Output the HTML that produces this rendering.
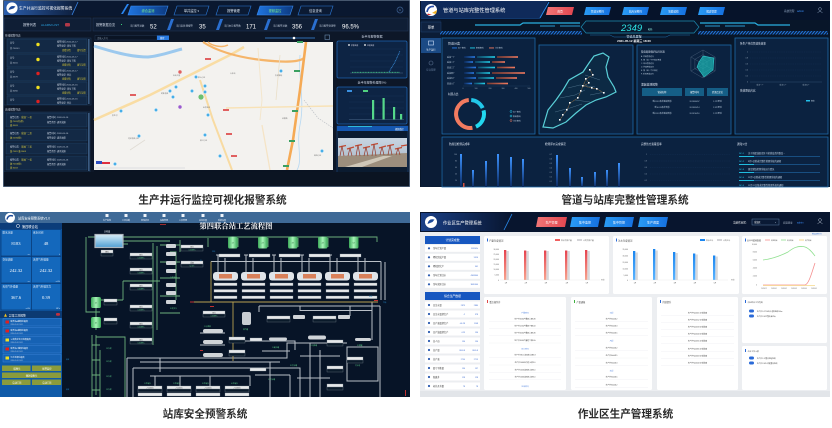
<!DOCTYPE html>
<html><head><meta charset="utf-8"><title>系统截图</title>
<style>
html,body{margin:0;padding:0;background:#fff;}
body{width:832px;height:428px;overflow:hidden;}
svg{display:block;}
</style></head><body>
<svg width="832" height="428" viewBox="0 0 832 428" xmlns="http://www.w3.org/2000/svg" font-family="'Liberation Sans','Noto Sans CJK SC',sans-serif">
<defs>
 <linearGradient id="g1hdr" x1="0" x2="1"><stop offset="0" stop-color="#2c5fae"/><stop offset="1" stop-color="#0c1c38"/></linearGradient>
 <linearGradient id="gTabOn" x1="0" x2="1"><stop offset="0" stop-color="#1f75e0"/><stop offset="1" stop-color="#0d3a80"/></linearGradient>
 <linearGradient id="gSky" x1="0" y1="0" x2="0" y2="1"><stop offset="0" stop-color="#c8d5e2"/><stop offset="1" stop-color="#a7b6c4"/></linearGradient>
 <linearGradient id="gBarBlue" x1="0" y1="0" x2="0" y2="1"><stop offset="0" stop-color="#3d93ff"/><stop offset="1" stop-color="#0b2a62"/></linearGradient>
 <linearGradient id="gOr" x1="0" x2="1"><stop offset="0" stop-color="#7a3a30"/><stop offset="1" stop-color="#f27b60"/></linearGradient>
 <linearGradient id="gCy" x1="0" x2="1"><stop offset="0" stop-color="#0f4a6a"/><stop offset="1" stop-color="#22d0ea"/></linearGradient>
 <linearGradient id="gBl" x1="0" x2="1"><stop offset="0" stop-color="#0d2a5a"/><stop offset="1" stop-color="#2a7ce8"/></linearGradient>
 <pattern id="hatch" width="3" height="4" patternUnits="userSpaceOnUse" patternTransform="skewX(-40)"><rect width="3" height="4" fill="#07162c"/><rect width="1.6" height="4" fill="#1f6fd0"/></pattern>
 <linearGradient id="gRed4" x1="0" y1="0" x2="0" y2="1"><stop offset="0" stop-color="#e6434f"/><stop offset="1" stop-color="#f7a48f"/></linearGradient>
 <linearGradient id="gBlu4" x1="0" y1="0" x2="0" y2="1"><stop offset="0" stop-color="#1a86f0"/><stop offset="1" stop-color="#5cb4ff"/></linearGradient>
 <linearGradient id="gTank" x1="0" x2="1"><stop offset="0" stop-color="#3aa858"/><stop offset=".5" stop-color="#a8f4b8"/><stop offset="1" stop-color="#3aa858"/></linearGradient>
 <linearGradient id="gWater" x1="0" y1="0" x2="0" y2="1"><stop offset="0" stop-color="#d8eef8"/><stop offset="1" stop-color="#4f9fd4"/></linearGradient>
 <linearGradient id="gRedTab" x1="0" x2="1"><stop offset="0" stop-color="#f27676"/><stop offset="1" stop-color="#e14650"/></linearGradient>
 <linearGradient id="gBluTab" x1="0" x2="1"><stop offset="0" stop-color="#2a9cf5"/><stop offset="1" stop-color="#1570e0"/></linearGradient>
 <linearGradient id="g4hdr" x1="0" x2="1"><stop offset="0" stop-color="#1a3f86"/><stop offset="1" stop-color="#08152e"/></linearGradient>
</defs>

<!-- ================= PANEL 1 (top-left) ================= -->
<g>
<rect x="3" y="0" width="407" height="187" fill="#0d1728"/>
<rect x="3.3" y="0.3" width="406.4" height="186.4" fill="none" stroke="#6d829c" stroke-width="0.6"/>
<rect x="4" y="1" width="405" height="15" fill="#0a1830"/>
<polygon points="4,1 78,1 72,15 4,15" fill="url(#g1hdr)"/>
<line x1="78" y1="2" x2="72" y2="15" stroke="#3a86e8" stroke-width="0.8"/>
<circle cx="12" cy="8" r="5.6" fill="#fff"/>
<path d="M8.5,10 Q10,4.5 15.5,6.5 L13.5,8.5 Z" fill="#1d4a9a"/>
<text x="19" y="9.5" font-size="3.8" fill="#fff">生产井运行监控可视化报警系统</text>
<polygon points="121,14 127,4 129,4 123,14" fill="#2a86f0"/>
<polygon points="131,6 168,6 165,15 128,15" fill="url(#gTabOn)" stroke="#3a8cf0" stroke-width="0.6"/>
<text x="148" y="12" font-size="3.2" fill="#7ef08a" text-anchor="middle">综合监测</text>
<polygon points="177,6 209,6 206,15 174,15" fill="#0b1a33" stroke="#2d7ad8" stroke-width="0.6"/>
<text x="191.5" y="12" font-size="3.2" fill="#d8e4f0" text-anchor="middle">单井监控 ▾</text>
<polygon points="219,6 251,6 248,15 216,15" fill="#0b1a33" stroke="#2d7ad8" stroke-width="0.6"/>
<text x="233.5" y="12" font-size="3.2" fill="#d8e4f0" text-anchor="middle">报警管理</text>
<polygon points="260,6 293,6 290,15 257,15" fill="url(#gTabOn)" stroke="#3a8cf0" stroke-width="0.6"/>
<text x="275" y="12" font-size="3.2" fill="#7ef08a" text-anchor="middle">视频监控</text>
<polygon points="301,6 333,6 330,15 298,15" fill="#0b1a33" stroke="#2d7ad8" stroke-width="0.6"/>
<text x="315.5" y="12" font-size="3.2" fill="#d8e4f0" text-anchor="middle">信息查询</text>
<circle cx="400" cy="10" r="3" fill="none" stroke="#3d5f8f" stroke-width="0.7"/>
<path d="M398.6,8.6 L401.4,11.4 M401.4,8.6 L398.6,11.4" stroke="#3d5f8f" stroke-width="0.5"/>

<rect x="4" y="18" width="87" height="13" fill="#0f1e35" stroke="#22395a" stroke-width="0.5"/>
<text x="23" y="26" font-size="3.3" fill="#d0d8e6">报警列表</text>
<text x="41" y="26" font-size="3.1" fill="#2aa6e6">ALARM LIST</text>
<rect x="65" y="23" width="5" height="3.5" rx="1" fill="#b03848"/>
<rect x="93" y="18" width="315" height="13" fill="#0f1e35" stroke="#22395a" stroke-width="0.5"/>
<text x="96" y="26" font-size="3.2" fill="#d0d8e6">报警数据总览</text>
<rect x="121" y="24" width="1" height="1" fill="#3ad07a"/>
<g font-size="2.4" fill="#c0ccdc">
<text x="130" y="26.5">当日报警总数</text>
<text x="176" y="26.5">当日未处理报警</text>
<text x="224" y="26.5">当日本月报警数</text>
<text x="273" y="26.5">当月报警总数</text>
<text x="319" y="26.5">当月报警处理率</text>
</g>
<g font-size="6" fill="#fff">
<text x="150" y="28.5">52</text><text x="199" y="28.5">35</text><text x="246" y="28.5">171</text><text x="292" y="28.5">356</text><text x="342" y="28.5">96.5%</text>
</g>
<g fill="#2a6fd0">
<polygon points="171,19 174,19 170,30 167,30"/><polygon points="220,19 223,19 219,30 216,30"/>
<polygon points="268,19 271,19 267,30 264,30"/><polygon points="315,19 318,19 314,30 311,30"/>
</g>

<!-- left column -->
<text x="5" y="36.5" font-size="2.6" fill="#c8d2e0">在线报警列表</text>
<rect x="4" y="38" width="87" height="67" fill="#0d1a2d" stroke="#1f3a5c" stroke-width="0.5"/>
<rect x="88" y="39" width="1.6" height="65" fill="#3a5a80"/>
<g font-size="2.2" fill="#c8d2e0">
<rect x="7" y="39" width="80" height="14" fill="#132945" stroke="#23446b" stroke-width="0.5"/>
<text x="10" y="43.5">井号:</text><text x="10" y="49">井:7003-1</text>
<circle cx="38" cy="44.5" r="1.7" fill="#f0e020"/>
<text x="57" y="42.5">报警时间:2020-05-17</text><text x="57" y="46.5">报警类型: 液位下限</text>
<text x="62" y="51" fill="#d8c838">查看详情</text><text x="77" y="51" fill="#d8c838">填写反馈</text>
<rect x="7" y="54" width="80" height="13" fill="#132945" stroke="#23446b" stroke-width="0.5"/>
<text x="10" y="58.5">井号:</text><text x="10" y="63.5">井:3041</text>
<circle cx="38" cy="59.5" r="1.7" fill="#f0e020"/>
<text x="57" y="57.5">报警时间:2020-05-17</text><text x="57" y="61.5">报警类型: 液位下限</text>
<text x="62" y="65.5" fill="#d8c838">查看详情</text><text x="77" y="65.5" fill="#d8c838">填写反馈</text>
<rect x="7" y="68" width="80" height="13" fill="#132945" stroke="#23446b" stroke-width="0.5"/>
<text x="10" y="72.5">井号:</text><text x="10" y="77.5">井:4378</text>
<circle cx="38" cy="73.5" r="1.7" fill="#e02020"/>
<text x="57" y="71.5">报警时间:2020-05-17</text><text x="57" y="75.5">报警类型: 停井</text>
<text x="62" y="79.5" fill="#d8c838">查看详情</text><text x="77" y="79.5" fill="#d8c838">填写反馈</text>
<rect x="7" y="82" width="80" height="13" fill="#132945" stroke="#23446b" stroke-width="0.5"/>
<text x="10" y="86.5">井号:</text><text x="10" y="91.5">井:3056</text>
<circle cx="38" cy="87.5" r="1.7" fill="#f0e020"/>
<text x="57" y="85.5">报警时间:2020-05-16</text><text x="57" y="89.5">报警类型: 液位下限</text>
<text x="62" y="93.5" fill="#d8c838">查看详情</text><text x="77" y="93.5" fill="#d8c838">填写反馈</text>
<rect x="7" y="96" width="80" height="8.5" fill="#132945" stroke="#23446b" stroke-width="0.5"/>
<text x="10" y="100.5">井号:</text>
<circle cx="38" cy="101.5" r="1.7" fill="#e02020"/>
<text x="57" y="99.5">报警时间:2020-05-16</text><text x="57" y="103.5">报警类型: 停井</text>
</g>
<text x="5" y="110.5" font-size="2.6" fill="#c8d2e0">离线报警列表</text>
<rect x="4" y="112" width="86" height="60" fill="#0d1a2d" stroke="#1f3a5c" stroke-width="0.5"/>
<rect x="88" y="113" width="1.6" height="58" fill="#3a5a80"/>
<g font-size="2.2" fill="#c8d2e0">
<rect x="6" y="113" width="81" height="14" fill="#132945" stroke="#23446b" stroke-width="0.5"/>
<text x="10" y="118">报警位置:</text><text x="21" y="118" fill="#e0d040">采油厂一区</text><text x="10" y="122" fill="#e0d040">油:7003井(停)</text><text x="10" y="126" fill="#e0d040">液:3003</text>
<text x="47" y="118">报警时间: 2020-05-16</text><text x="47" y="123">报警类型: 通讯故障</text>
<rect x="6" y="129" width="81" height="12" fill="#132945" stroke="#23446b" stroke-width="0.5"/>
<text x="10" y="134">报警位置:</text><text x="21" y="134" fill="#e0d040">采油厂二区</text><text x="10" y="138.5" fill="#e0d040">油:2005(停)</text>
<text x="47" y="134">报警时间: 2020-05-16</text><text x="47" y="138.5">报警类型: 通讯故障</text>
<rect x="6" y="143" width="81" height="11" fill="#132945" stroke="#23446b" stroke-width="0.5"/>
<text x="10" y="147.5">报警位置:</text><text x="21" y="147.5" fill="#e0d040">采油厂三区</text><text x="10" y="152" fill="#e0d040">油:7081 液:3003</text>
<text x="47" y="147.5">报警时间: 2020-05-16</text><text x="47" y="152">报警类型: 通讯故障</text>
<rect x="6" y="156" width="81" height="14" fill="#132945" stroke="#23446b" stroke-width="0.5"/>
<text x="10" y="160.5">报警位置:</text><text x="21" y="160.5" fill="#e0d040">采油厂一区</text><text x="10" y="164.5" fill="#e0d040">油:7003(停)</text><text x="10" y="168.5" fill="#e0d040">液:3003</text>
<text x="47" y="160.5">报警时间: 2020-05-16</text><text x="47" y="165">报警类型: 通讯故障</text>
</g>

<!-- map -->
<rect x="95" y="35.5" width="62" height="4.5" fill="#0a1424" stroke="#2a4060" stroke-width="0.4"/>
<text x="97" y="38.8" font-size="2.2" fill="#7a8a9c">请输入井号</text>
<rect x="157" y="35.5" width="12" height="4.5" fill="#2a7be0"/>
<text x="160" y="38.8" font-size="2.2" fill="#fff">搜索</text>
<line x1="265" y1="38" x2="315" y2="38" stroke="#3a8be0" stroke-width="0.8"/>
<circle cx="294" cy="38" r="1.3" fill="#fff"/>
<rect x="325" y="35" width="4.5" height="4.5" fill="none" stroke="#6a8ab0" stroke-width="0.6"/>
<rect x="94" y="42" width="239" height="128" fill="#f3f2ef"/>
<path d="M94,46 C110,51 130,57 148,57 C160,56 170,52 182,49" stroke="#9cc9ee" stroke-width="3" fill="none"/>
<path d="M300,55 C298,80 305,100 300,125 C296,145 303,160 297,170" stroke="#b6d8f2" stroke-width="0.8" fill="none"/>
<path d="M94,120 L150,95 L200,70 L232,54 L244,47" stroke="#f9dda4" stroke-width="2.6" fill="none"/>
<path d="M203,42 C215,50 235,57 262,60 C280,62 298,63 304,58" stroke="#f5b56a" stroke-width="2.2" fill="none"/>
<path d="M208,42 C212,46 222,48 228,45" stroke="#f5b56a" stroke-width="1.5" fill="none"/>
<path d="M306,42 L300,90 L293,140 L287,170" stroke="#f5aa55" stroke-width="2.6" fill="none"/>
<path d="M200,80 L213,120 L232,170" stroke="#f8dba2" stroke-width="2" fill="none"/>
<path d="M226,108 L333,106" stroke="#f8e2b6" stroke-width="1.4" fill="none"/>
<path d="M262,125 L270,170" stroke="#f5e4c6" stroke-width="1.3" fill="none"/>
<path d="M258,48 L262,100 L260,120" stroke="#f3e6cc" stroke-width="1" fill="none"/>
<path d="M280,55 L276,100" stroke="#eadfc8" stroke-width="0.8" fill="none"/>
<path d="M304,100 L318,118 L333,128" stroke="#b8bcc2" stroke-width="0.6" stroke-dasharray="1.5,1" fill="none"/>
<path d="M130,150 L145,140" stroke="#e0dcd4" stroke-width="0.8" fill="none"/>
<g fill="#e06060"><rect x="205" y="58" width="6" height="2"/><rect x="130" y="94" width="6" height="2"/><rect x="223" y="109" width="6" height="2"/><rect x="226" y="133" width="6" height="2"/><rect x="231" y="155" width="6" height="2"/></g>
<g fill="#3aa060"><rect x="297" y="41" width="6" height="2"/><rect x="294" y="70" width="6" height="2"/><rect x="292" y="110" width="6" height="2"/><rect x="289" y="140" width="6" height="2"/><rect x="283" y="165" width="6" height="2"/></g>
<g fill="#47aee8" stroke="#fff" stroke-width="0.4">
<circle cx="196" cy="77" r="1.7"/><circle cx="205" cy="92" r="1.7"/><circle cx="176" cy="87" r="1.7"/><circle cx="170" cy="91" r="1.7"/>
<circle cx="192" cy="91" r="1.7"/><circle cx="173" cy="97" r="1.7"/><circle cx="121" cy="111" r="1.7"/><circle cx="156" cy="110" r="1.7"/>
<circle cx="139" cy="136" r="1.7"/><circle cx="205" cy="135" r="1.7"/><circle cx="208" cy="115" r="1.7"/><circle cx="220" cy="156" r="1.7"/>
<circle cx="281" cy="71" r="1.7"/><circle cx="322" cy="151" r="1.7"/><circle cx="115" cy="164" r="1.7"/><circle cx="205" cy="86" r="1.7"/>
</g>
<circle cx="201" cy="97" r="2.6" fill="#6cc070"/>
<circle cx="180" cy="107" r="1.7" fill="#9a5ad0"/>
<circle cx="180" cy="72" r="1.7" fill="#e06060"/>
<g font-size="1.8" fill="#777">
<text x="173" y="76">石油大厦</text><text x="198" y="78">泰山小区</text><text x="161" y="94">明珠花园</text><text x="112" y="116">民生村</text>
<text x="203" y="108">金桥社区</text><text x="128" y="139">河滨花园小区</text><text x="200" y="141">新兴小区</text><text x="275" y="76">东湖雅苑</text>
<text x="314" y="156">田园小区</text><text x="282" y="119">红旗路</text><text x="230" y="74">火车站</text>
</g>
<rect x="96" y="161" width="6" height="3" fill="#3050c0"/><rect x="102" y="162" width="8" height="2" fill="#e03040"/>
<rect x="95" y="167" width="90" height="2" fill="#e8e8e8"/>
<rect x="94" y="170" width="239" height="2" fill="#0a1322"/>

<!-- right column -->
<text x="372" y="37.5" font-size="3" fill="#cfd8e8" text-anchor="middle">近半年报警数据</text>
<rect x="337" y="41" width="70" height="37" rx="1.5" fill="#0d2444" stroke="#1c62b0" stroke-width="0.8"/>
<circle cx="349" cy="45" r="0.9" fill="#fff"/><text x="351" y="45.8" font-size="1.8" fill="#ccd">报警数据</text>
<circle cx="365" cy="45" r="0.9" fill="#fff"/><text x="367" y="45.8" font-size="1.8" fill="#ccd">处理数据</text>
<g stroke="#1b3a60" stroke-width="0.3"><line x1="350" y1="49" x2="403" y2="49"/><line x1="350" y1="55" x2="403" y2="55"/><line x1="350" y1="61" x2="403" y2="61"/><line x1="350" y1="67" x2="403" y2="67"/></g>
<line x1="350" y1="73" x2="403" y2="73" stroke="#5a7a9a" stroke-width="0.4"/>
<line x1="352" y1="72.3" x2="400" y2="72.3" stroke="#40c080" stroke-width="0.9" stroke-dasharray="1,0.6"/>
<path d="M389,72 L395,62 L400,51" stroke="#3a90e0" stroke-width="0.8" stroke-dasharray="1,0.6" fill="none"/>
<text x="372" y="83.5" font-size="3" fill="#cfd8e8" text-anchor="middle">近半年报警处理率(%)</text>
<rect x="337" y="87" width="70" height="37" rx="1.5" fill="#0d2444" stroke="#1c62b0" stroke-width="0.8"/>
<rect x="347" y="90" width="5" height="2" fill="#3a90e0"/><rect x="363" y="90" width="5" height="2" fill="#50d080"/>
<g stroke="#1b3a60" stroke-width="0.3"><line x1="349" y1="96" x2="404" y2="96"/><line x1="349" y1="102" x2="404" y2="102"/><line x1="349" y1="108" x2="404" y2="108"/><line x1="349" y1="114" x2="404" y2="114"/></g>
<line x1="349" y1="119.5" x2="404" y2="119.5" stroke="#5a7a9a" stroke-width="0.4"/>
<g fill="#55d88a"><rect x="372" y="100" width="2.2" height="19.5"/><rect x="382.5" y="98" width="2.2" height="21.5"/><rect x="393" y="107" width="2.2" height="12.5"/><rect x="400" y="114" width="2.2" height="5.5"/></g>
<rect x="337" y="126" width="71" height="47" fill="#0b1b30" stroke="#1d4a80" stroke-width="0.6"/>
<rect x="337" y="126" width="71" height="5" fill="#1557b0"/>
<rect x="348" y="126" width="24" height="0.8" fill="#35d0e8"/>
<text x="395" y="130" font-size="2.2" fill="#fff">视频监控</text>
<rect x="338" y="138" width="69" height="29" fill="url(#gSky)"/>
<polygon points="338,156 407,153 407,167 338,167" fill="#9c8e7d"/>
<polygon points="345,167 383,156 392,156 362,167" fill="#cfc7b8"/>
<g stroke="#c24a32" stroke-width="1.3">
<line x1="339" y1="147" x2="346" y2="145.5"/><line x1="347" y1="149" x2="354" y2="147"/><line x1="355" y1="146" x2="362" y2="144.5"/>
<line x1="363" y1="148" x2="370" y2="146.5"/><line x1="371" y1="145" x2="378" y2="143.5"/><line x1="379" y1="148" x2="386" y2="146"/>
<line x1="387" y1="146" x2="394" y2="144.5"/><line x1="395" y1="149" x2="402" y2="147.5"/><line x1="401" y1="146" x2="407" y2="145"/>
</g>
<g stroke="#9a3b2c" stroke-width="0.7">
<path d="M342,146 L340,156 M342,146 L344,156 M350,148 L348,156 M350,148 L352,156 M358,145 L356,156 M358,145 L360,156 M366,147 L364,156 M366,147 L368,156 M374,144 L372,156 M374,144 L376,156 M382,147 L380,155 M382,147 L384,155 M390,145 L388,155 M390,145 L392,155 M398,148 L396,155 M398,148 L400,155"/>
</g>
<rect x="4" y="172" width="405" height="14" fill="#0b1422"/>
</g>

<!-- ================= PANEL 2 (top-right) ================= -->
<g>
<rect x="420" y="1" width="410" height="186" fill="#081629"/>
<rect x="420" y="1" width="410" height="19" fill="#06132a"/>
<polygon points="421,1 548,1 540,18 421,18" fill="#0f2a5a"/>
<line x1="549" y1="2" x2="540" y2="18" stroke="#2a8cf0" stroke-width="1"/>
<line x1="421" y1="18.5" x2="540" y2="18.5" stroke="#1d5fb0" stroke-width="0.6"/>
<circle cx="431" cy="10" r="6" fill="#fff"/>
<path d="M427,12 Q428,6 434,6.5" stroke="#2a4fa8" stroke-width="1.6" fill="none"/>
<path d="M432,13 L437,10 L436,14 Z" fill="#f0b020"/>
<path d="M428,13.5 L432,15 L427,15 Z" fill="#e03030"/>
<text x="443" y="12" font-size="5.2" fill="#fff">管道与站库完整性管理系统</text>
<polygon points="548,7 574,7 572,15 546,15" fill="url(#gRedTab)"/>
<text x="560" y="12.3" font-size="2.8" fill="#fff" text-anchor="middle">首页</text>
<g fill="url(#gBluTab)">
<polygon points="586,7 611,7 609,15 584,15"/><polygon points="624,7 649,7 647,15 622,15"/>
<polygon points="662,7 687,7 685,15 660,15"/><polygon points="700,7 725,7 723,15 698,15"/>
</g>
<g font-size="2.6" fill="#fff" text-anchor="middle">
<text x="597.5" y="12.3">管道完整性</text><text x="635.5" y="12.3">站库完整性</text><text x="673.5" y="12.3">智能巡检</text><text x="711.5" y="12.3">报表管理</text>
</g>
<text x="784" y="12" font-size="2.6" fill="#8fa4bf">系统管理</text><text x="797" y="12" font-size="2.6" fill="#3a90ff">admin</text>
<circle cx="820" cy="9" r="1.4" fill="none" stroke="#8fa4bf" stroke-width="0.5"/><path d="M817.5,13 Q820,10 822.5,13" stroke="#8fa4bf" stroke-width="0.5" fill="none"/>

<rect x="421" y="20" width="20" height="167" fill="#0b1c36"/>
<rect x="421" y="22" width="20" height="10" fill="#0f2240" stroke="#1f4070" stroke-width="0.5"/>
<text x="431" y="28.5" font-size="3.3" fill="#fff" text-anchor="middle">菜单</text>
<rect x="421" y="38" width="20" height="15" fill="#1b4a85"/>
<rect x="428.5" y="41" width="5" height="4" fill="none" stroke="#cfe0f8" stroke-width="0.6"/>
<text x="431" y="50.5" font-size="2.3" fill="#fff" text-anchor="middle">生产运行</text>
<circle cx="431" cy="63" r="2" fill="none" stroke="#5a7090" stroke-width="0.6"/>
<text x="431" y="70.5" font-size="2.3" fill="#6a80a0" text-anchor="middle">综合管理</text>

<!-- top decoration -->
<path d="M475,25 L520,25 L523,23 L580,23" stroke="#2ab0e0" stroke-width="1.2" fill="none"/>
<path d="M540,26 L555,26 M560,26 L580,26" stroke="#2a9ad0" stroke-width="1" fill="none"/>
<path d="M700,23 L755,23 L758,25 L790,25" stroke="#2ab0e0" stroke-width="1.2" fill="none"/>
<path d="M705,26 L720,26 M725,26 L745,26" stroke="#2a9ad0" stroke-width="1" fill="none"/>
<polygon points="586,21 694,21 699,27 694,33 586,33 581,27" fill="#08192f" stroke="#1d8ab0" stroke-width="0.7"/>
<rect x="440" y="31" width="142" height="3.5" fill="url(#hatch)"/>
<rect x="698" y="31" width="130" height="3.5" fill="url(#hatch)"/>
<text x="621" y="30.8" font-size="9.5" font-style="italic" fill="#2ee6e6">2349</text>
<text x="648" y="30.5" font-size="3.2" fill="#9fe">km</text>
<path d="M590,35 L610,35 L614,37 L666,37 L670,35 L690,35" stroke="#1d6fb0" stroke-width="0.5" fill="none"/>
<text x="634" y="37.5" font-size="3" fill="#dde8f4" text-anchor="middle">管道总里程</text>
<text x="634" y="42" font-size="3" fill="#fff" text-anchor="middle" font-weight="bold">2021-05-12  星期三  18:20</text>

<!-- card1 -->
<rect x="442" y="38" width="93" height="96" fill="#0b2240" stroke="#1e6aa8" stroke-width="0.8"/>
<text x="448" y="44.5" font-size="3" fill="#e0e8f4">管道分类</text>
<rect x="452" y="47.5" width="5" height="0.9" fill="#2a7ce8"/><text x="458" y="48.6" font-size="1.9" fill="#bcd">出厂管线</text>
<rect x="470" y="47.5" width="5" height="0.9" fill="#22d0ea"/><text x="476" y="48.6" font-size="1.9" fill="#bcd">集输管线</text>
<rect x="489" y="47.5" width="5" height="0.9" fill="#f27b60"/><text x="495" y="48.6" font-size="1.9" fill="#bcd">注水管线</text>
<g font-size="2" fill="#bcd">
<text x="447" y="57.8">采油一厂</text><text x="447" y="62.8">采油二厂</text><text x="447" y="68.3">采油三厂</text><text x="447" y="73.8">采油四厂</text><text x="447" y="78.8">采油五厂</text><text x="447" y="84.3">采油六厂</text>
</g>
<g>
<rect x="464" y="56.2" width="11" height="1.6" fill="url(#gBl)"/><rect x="477" y="56.2" width="18" height="1.6" fill="url(#gCy)"/><rect x="497" y="56.2" width="21" height="1.6" fill="url(#gOr)"/>
<rect x="464" y="61.2" width="9" height="1.6" fill="url(#gBl)"/><rect x="475" y="61.2" width="15" height="1.6" fill="url(#gCy)"/><rect x="492" y="61.2" width="13" height="1.6" fill="url(#gOr)"/>
<rect x="464" y="66.7" width="12" height="1.6" fill="url(#gBl)"/><rect x="478" y="66.7" width="17" height="1.6" fill="url(#gCy)"/><rect x="497" y="66.7" width="18" height="1.6" fill="url(#gOr)"/>
<rect x="464" y="72.2" width="10" height="1.6" fill="url(#gBl)"/><rect x="476" y="72.2" width="14" height="1.6" fill="url(#gCy)"/><rect x="492" y="72.2" width="33" height="1.6" fill="url(#gOr)"/>
<rect x="464" y="77.2" width="12" height="1.6" fill="url(#gBl)"/><rect x="478" y="77.2" width="16" height="1.6" fill="url(#gCy)"/><rect x="496" y="77.2" width="21" height="1.6" fill="url(#gOr)"/>
<rect x="464" y="82.7" width="8" height="1.6" fill="url(#gBl)"/><rect x="474" y="82.7" width="11" height="1.6" fill="url(#gCy)"/><rect x="487" y="82.7" width="21" height="1.6" fill="url(#gOr)"/>
</g>
<line x1="463" y1="86" x2="530" y2="86" stroke="#2a4a70" stroke-width="0.3"/>
<g font-size="1.8" fill="#9ab" text-anchor="middle"><text x="463" y="89">0</text><text x="476" y="89">100</text><text x="490" y="89">200</text><text x="503" y="89">300</text><text x="516" y="89">400</text><text x="529" y="89">500</text></g>
<text x="448" y="95" font-size="2.6" fill="#e0e8f4">材质占比</text>
<path d="M472.43,127.79 A14,14 0 1 1 468.78,100.05" stroke="#f27b60" stroke-width="4" fill="none"/>
<path d="M471.22,100.05 A14,14 0 0 1 482.69,108.08" stroke="#22c8ea" stroke-width="4" fill="none"/>
<path d="M483.52,110.38 A14,14 0 0 1 475.92,126.69" stroke="#22d8f0" stroke-width="4" fill="none"/>
<g font-size="1.9" fill="#bcd">
<circle cx="511" cy="111.5" r="1" fill="none" stroke="#22c8ea" stroke-width="0.5"/><text x="513" y="112.3">出厂管线</text>
<circle cx="511" cy="116" r="1" fill="none" stroke="#22d8f0" stroke-width="0.5"/><text x="513" y="116.8">集输管线</text>
<circle cx="511" cy="120.5" r="1" fill="none" stroke="#f27b60" stroke-width="0.5"/><text x="513" y="121.3">注水管线</text>
</g>

<!-- card2 map -->
<rect x="539" y="45" width="94" height="89" fill="#0b2240" stroke="#1e6aa8" stroke-width="0.8"/>
<polygon points="543,127 548,110 556,100 563,90 569,80 583,72 589,63 594,56 603,53 609,57 606,67 608,77 614,87 616,92 606,97 596,100 586,105 576,113 566,122 553,128" fill="#0c2a44" stroke="#5ad0d8" stroke-width="1.2"/>
<path d="M560,98 L575,95 L585,90 M568,88 L580,85 L595,87 M575,100 L590,102 M555,112 L570,108 L582,104 M585,75 L600,80 M590,95 L605,92" stroke="#5a7f98" stroke-width="0.4" fill="none"/>
<path d="M590,70 L593,75 L586,79 L589,83 L583,86 L592,88 L597,89 L604,93 M586,79 L578,98 L570,103 L567,110 L563,115 L560,120" stroke="#d08a40" stroke-width="0.5" stroke-dasharray="1,0.5" fill="none"/>
<g fill="#fff"><rect x="589" y="69" width="1.6" height="1.6"/><rect x="592" y="74" width="1.6" height="1.6"/><rect x="585" y="78" width="1.6" height="1.6"/><rect x="588" y="82" width="1.6" height="1.6"/><rect x="582" y="85" width="1.6" height="1.6"/><rect x="591" y="87" width="1.6" height="1.6"/><rect x="596" y="88" width="1.6" height="1.6"/><rect x="603" y="92" width="1.6" height="1.6"/><rect x="577" y="97" width="1.6" height="1.6"/><rect x="569" y="102" width="1.6" height="1.6"/><rect x="566" y="109" width="1.6" height="1.6"/><rect x="562" y="114" width="1.6" height="1.6"/><rect x="559" y="119" width="1.6" height="1.6"/><rect x="580" y="90" width="1.6" height="1.6"/></g>
<!-- card3 -->
<rect x="637" y="45" width="94" height="89" fill="#0b2240" stroke="#1e6aa8" stroke-width="0.8"/>
<text x="641" y="52.5" font-size="2.4" fill="#e0e8f4">管道周期保护运行状态</text>
<g font-size="1.8" fill="#bcd">
<text x="641" y="57">A. 外输管道运行</text><text x="641" y="60.5">B. 集（油）气不停运管道</text><text x="641" y="64">C. 综合管道运行</text><text x="641" y="67.5">D. 外输管道运行</text><text x="641" y="71">E. 集（油）气不停运</text><text x="641" y="74.5">F. 综合管道运行</text>
</g>
<g fill="none" stroke="#5a6f88" stroke-width="0.35">
<polygon points="703,50 715.1,57 715.1,71 703,78 690.9,71 690.9,57"/>
<polygon points="703,54.7 711.1,59.35 711.1,68.65 703,73.3 694.9,68.65 694.9,59.35"/>
<polygon points="703,59.3 707,61.7 707,66.3 703,68.7 699,66.3 699,61.7"/>
<path d="M703,50 L703,78 M690.9,57 L715.1,71 M715.1,57 L690.9,71"/>
</g>
<polygon points="703,56 714,58 713,70 704,77 697,67 699,62" fill="#1bb0b0" fill-opacity="0.75" stroke="#3ae0e0" stroke-width="0.5"/>
<text x="641" y="85.5" font-size="2.8" fill="#e0e8f4">泄漏监测报警</text>
<rect x="642" y="88" width="40" height="8" fill="#155e86"/><rect x="685" y="88" width="19" height="8" fill="#155e86"/><rect x="707" y="88" width="21" height="8" fill="#155e86"/>
<g font-size="2.2" fill="#fff" text-anchor="middle"><text x="662" y="92.8">管道名称</text><text x="694.5" y="92.8">报警时间</text><text x="717.5" y="92.8">泄漏点定位</text></g>
<g font-size="2" fill="#bcd" text-anchor="middle">
<text x="662" y="102">新813.1单井输油管道</text><text x="694.5" y="102">2019/08/07</text><text x="717.5" y="102">1.2公里处</text>
<text x="662" y="108">新10.35单井管道</text><text x="694.5" y="108">2019/09/14</text><text x="717.5" y="108">2.3公里处</text>
<text x="662" y="114">新813.1单井输油管道</text><text x="694.5" y="114">2019/10/16</text><text x="717.5" y="114">2.2公里处</text>
</g>
<!-- card4 -->
<rect x="735" y="38" width="93" height="96" fill="#0b2240" stroke="#1e6aa8" stroke-width="0.8"/>
<text x="740" y="44.5" font-size="2.6" fill="#e0e8f4">各生产单位管道失效率</text>
<g font-size="1.8" fill="#9ab" text-anchor="end"><text x="748" y="52.5">1</text><text x="748" y="58.5">0.8</text><text x="748" y="64.5">0.6</text><text x="748" y="70.5">0.4</text><text x="748" y="76.5">0.2</text><text x="748" y="82.5">0</text></g>
<g stroke="#1c3a5e" stroke-width="0.3" stroke-dasharray="1,0.8"><line x1="750" y1="52" x2="822" y2="52"/><line x1="750" y1="58" x2="822" y2="58"/><line x1="750" y1="64" x2="822" y2="64"/><line x1="750" y1="70" x2="822" y2="70"/><line x1="750" y1="76" x2="822" y2="76"/></g>
<line x1="750" y1="82" x2="822" y2="82" stroke="#3a5a80" stroke-width="0.4"/>
<g font-size="1.8" fill="#9ab" text-anchor="middle"><text x="760" y="85.5">采油一厂</text><text x="783" y="85.5">采油三厂</text><text x="806" y="85.5">采油五厂</text></g>
<text x="740" y="91.5" font-size="2.6" fill="#e0e8f4">失效原因占比</text>
<rect x="806" y="100" width="4" height="1.5" fill="#22c0ea"/><text x="811" y="101.5" font-size="1.8" fill="#bcd">腐蚀</text>
<!-- bottom card -->
<rect x="442" y="137" width="386" height="50" fill="#0b2240" stroke="#1e6aa8" stroke-width="0.8"/>
<g font-size="2.6" fill="#e0e8f4"><text x="449" y="145">防腐层检测完成率</text><text x="545" y="145">检测评价完成情况</text><text x="641" y="145">完整性方案覆盖率</text><text x="737" y="145">通知公告</text></g>
<g font-size="1.7" fill="#9ab" text-anchor="end"><text x="457" y="155">100</text><text x="457" y="161.5">80</text><text x="457" y="168">60</text><text x="457" y="174.5">40</text><text x="457" y="181">20</text>
<text x="552" y="155">0.7</text><text x="552" y="159.5">0.6</text><text x="552" y="164">0.5</text><text x="552" y="168.5">0.4</text><text x="552" y="173">0.3</text><text x="552" y="177.5">0.2</text><text x="552" y="182">0.1</text>
<text x="647" y="155">1</text><text x="647" y="161.5">0.8</text><text x="647" y="168">0.6</text><text x="647" y="174.5">0.4</text><text x="647" y="181">0.2</text></g>
<g fill="url(#gBarBlue)">
<rect x="460" y="154" width="2" height="33"/><rect x="472" y="170" width="2" height="17"/><rect x="485" y="161" width="2" height="26"/><rect x="497" y="154" width="2" height="33"/><rect x="510" y="157" width="2" height="30"/><rect x="522" y="159" width="2" height="28"/>
<rect x="556" y="155" width="2" height="32"/><rect x="569" y="168" width="2" height="19"/><rect x="581" y="177" width="2" height="10"/><rect x="594" y="172" width="2" height="15"/><rect x="606" y="170" width="2" height="17"/><rect x="618" y="163" width="2" height="24"/>
</g>
<rect x="463" y="183" width="1.5" height="4" fill="#d05040"/>
<g stroke="#1c3a5e" stroke-width="0.3" stroke-dasharray="1,0.8"><line x1="650" y1="154.5" x2="730" y2="154.5"/><line x1="650" y1="161" x2="730" y2="161"/><line x1="650" y1="167.5" x2="730" y2="167.5"/><line x1="650" y1="174" x2="730" y2="174"/><line x1="650" y1="180.5" x2="730" y2="180.5"/></g>
<g font-size="2.2">
<text x="739" y="154" fill="#22c8ea">NO.1</text><text x="748" y="154" fill="#cde">关于新疆油田库区与管线改造的整改…</text>
<text x="739" y="162" fill="#22c8ea">NO.2</text><text x="748" y="162" fill="#cde">9月5日管道完整性管理系统的通知</text>
<text x="739" y="170" fill="#22c8ea">NO.3</text><text x="748" y="170" fill="#cde">固定腐蚀检测系统运行情况</text>
<text x="739" y="178" fill="#22c8ea">NO.4</text><text x="748" y="178" fill="#cde">11月5日管道完整性管理系统的通知</text>
<text x="739" y="186" fill="#22c8ea">NO.5</text><text x="748" y="186" fill="#cde">11月22日管道完整性管理系统的通知</text>
</g>
<g stroke-width="0.9">
<line x1="739" y1="156.5" x2="820" y2="156.5" stroke="#184e80"/><line x1="739" y1="156.5" x2="754" y2="156.5" stroke="#22c8ea"/>
<line x1="739" y1="164.5" x2="820" y2="164.5" stroke="#184e80"/><line x1="739" y1="164.5" x2="754" y2="164.5" stroke="#22c8ea"/>
<line x1="739" y1="172.5" x2="820" y2="172.5" stroke="#184e80"/><line x1="739" y1="172.5" x2="754" y2="172.5" stroke="#22c8ea"/>
<line x1="739" y1="180.5" x2="820" y2="180.5" stroke="#184e80"/><line x1="739" y1="180.5" x2="754" y2="180.5" stroke="#22c8ea"/>
</g>
</g>

<!-- ================= PANEL 3 (bottom-left) ================= -->
<g>
<rect x="0" y="212" width="410" height="185" fill="#071427"/>
<rect x="0" y="212" width="410" height="11" fill="#3f6a97"/>
<circle cx="10" cy="217.8" r="5" fill="#fff"/>
<path d="M7,219.5 Q8,214.5 13,216" stroke="#1d4a9a" stroke-width="1.5" fill="none"/>
<text x="18" y="219.5" font-size="3.2" fill="#fff">站库安全预警系统V1.0</text>
<g fill="#eef3fa"><rect x="105.5" y="214" width="3" height="3"/><rect x="124.5" y="214" width="3" height="3"/><rect x="143.5" y="214" width="3" height="3"/><rect x="162.5" y="214" width="3" height="3"/><rect x="181.5" y="214" width="3" height="3"/><rect x="201.5" y="214" width="3" height="3"/><rect x="220.5" y="214" width="3" height="3"/></g>
<g font-size="2" fill="#e8eef8" text-anchor="middle"><text x="107" y="221">生产监控</text><text x="126" y="221">工况诊断</text><text x="145" y="221">腐蚀状况</text><text x="164" y="221">设备管理</text><text x="183" y="221">人员管理</text><text x="203" y="221">应急处置</text><text x="222" y="221">系统设置</text></g>
<!-- left panel -->
<rect x="0" y="223" width="62" height="174" fill="#0f5aa8"/>
<rect x="0" y="223" width="62" height="6" fill="#0c3d7a"/>
<circle cx="18" cy="226" r="1.6" fill="none" stroke="#fff" stroke-width="0.5"/>
<text x="22" y="227.8" font-size="3.2" fill="#fff">第四联合站</text>
<g fill="#1468bc" stroke="#0a3f7e" stroke-width="0.8">
<rect x="1" y="229.5" width="30.5" height="26.5"/><rect x="31.5" y="229.5" width="29.5" height="26.5"/>
<rect x="1" y="256.5" width="30.5" height="26.5"/><rect x="31.5" y="256.5" width="29.5" height="26.5"/>
<rect x="1" y="283.5" width="30.5" height="26.5"/><rect x="31.5" y="283.5" width="29.5" height="26.5"/>
</g>
<g font-size="2.6" fill="#e6eef8"><text x="2.5" y="233.5">脱水水量</text><text x="33" y="233.5">来水时间</text><text x="2.5" y="260.5">交接油量</text><text x="33" y="260.5">天然气外输量</text><text x="2.5" y="287.5">天然气外输量</text><text x="33" y="287.5">天然气外输压力</text></g>
<g font-size="4.6" fill="#fff" text-anchor="middle" font-family="'Liberation Serif',serif">
<text x="16" y="245">8183</text><text x="46" y="245">48</text><text x="16" y="272">242.32</text><text x="46" y="272">242.32</text><text x="16" y="299">367.6</text><text x="46" y="299">0.39</text>
</g>
<g font-size="1.9" fill="#d0dcec" text-anchor="end"><text x="30" y="255">m³</text><text x="60" y="255">h</text><text x="30" y="282">m³</text><text x="60" y="282">m3/h</text><text x="30" y="309">m3/h</text><text x="60" y="309">MPa</text></g>
<rect x="0" y="311" width="62" height="7" fill="#0c3a72"/>
<polygon points="4,316.8 5.5,313.5 7,316.8" fill="#f0c020"/>
<text x="9" y="316.5" font-size="2.8" fill="#fff">异常工况报警</text>
<rect x="56" y="313" width="4" height="2.8" rx="1" fill="#c03040"/>
<g fill="#1662b4" stroke="#3a82d8" stroke-width="0.5">
<rect x="3" y="318.5" width="58" height="7.5"/><rect x="3" y="327.5" width="58" height="7.5"/><rect x="3" y="336.5" width="58" height="7.5"/><rect x="3" y="345.5" width="58" height="7.5"/><rect x="3" y="354.5" width="58" height="7.5"/>
</g>
<rect x="5.5" y="320.5" width="3.5" height="3" fill="#e02020"/><rect x="5.5" y="329.5" width="3.5" height="3" fill="#e02020"/><rect x="5.5" y="338.5" width="3.5" height="3" fill="#f0e020"/><rect x="5.5" y="347.5" width="3.5" height="3" fill="#e02020"/><rect x="5.5" y="356.5" width="3.5" height="3" fill="#f0e020"/>
<g font-size="2" fill="#fff"><text x="10.5" y="322">联合站A罐液位超高</text><text x="10.5" y="331">联合站B罐液位超高</text><text x="10.5" y="340">1#加热炉出口温度超高</text><text x="10.5" y="349">联合站C罐液位超高</text><text x="10.5" y="358">污水池液位超高</text></g>
<g font-size="1.6" fill="#b8cce4"><text x="10.5" y="324.8">2020-05-16 10:21</text><text x="10.5" y="333.8">2020-05-16 10:21</text><text x="10.5" y="342.8">2020-05-16 10:21</text><text x="10.5" y="351.8">2020-05-16 10:21</text><text x="10.5" y="360.8">2020-05-16 10:21</text></g>
<g fill="#8a9b3c">
<rect x="2" y="365.5" width="28.5" height="5.5"/><rect x="32" y="365.5" width="29" height="5.5"/>
<rect x="2" y="372.5" width="59" height="5.5"/>
<rect x="2" y="379.5" width="28.5" height="5.5"/><rect x="32" y="379.5" width="29" height="5.5"/>
</g>
<g font-size="2.3" fill="#fff" text-anchor="middle"><text x="17" y="369.3">摄像头</text><text x="47" y="369.3">报警监控</text><text x="31.5" y="376.3">播放摄像头</text><text x="17" y="383.3">启动门禁</text><text x="47" y="383.3">启动门禁</text></g>
<!-- flow diagram -->
<text x="236" y="228.5" font-size="7.3" fill="#fff" text-anchor="middle" font-weight="bold" font-family="'Liberation Serif','Noto Serif CJK SC',serif">第四联合站工艺流程图</text>
<g fill="none" stroke="#6cb07c" stroke-width="0.9">
<path d="M88,237 H377 V242"/>
<path d="M86,237 V312 H100"/>
<path d="M96,308 V330 M96,312 V316"/>
<path d="M123,241 H170 M123,244 H128"/>
<path d="M153,243 V345 M157,246 V330"/>
<path d="M160,245 H180 M160,262 H180 M160,278 H180 M160,296 H180 M160,313 H180"/>
<path d="M123,281 H160 M123,281 V300 M100,300 H123"/>
<path d="M92,335 V397 M96,335 V395 M100,350 V397 M92,345 H100 M92,360 H100 M92,375 H100 M92,390 H100"/>
<path d="M96,337 H125 V397"/>
<path d="M208,238 V247 M238,238 V247 M268,238 V247 M298,238 V247 M328,238 V247"/>
<path d="M170,252 H176 V300 M180,240 V252"/>
</g>
<g fill="none" stroke="#b8bfc7" stroke-width="1">
<path d="M211,261.5 H381"/>
<path d="M218,255 V272 M225,258 V272 M246,255 V272 M253,258 V272 M274,255 V272 M281,258 V272 M302,255 V272 M309,258 V272 M330,255 V272 M337,258 V272 M358,255 V272 M365,258 V272"/>
<path d="M216,255 H220 M244,255 H248 M272,255 H276 M300,255 H304 M328,255 H332 M356,255 H360"/>
<path d="M259,306 H380 M300,310.5 H372 M259,306 V312 M300,306 V311 M350,306 V316 M372,302 V311"/>
<path d="M127,358 H287 V343 H347 M127,358 V397 M160,358 V372"/>
<path d="M133,368 H300 V397 M133,368 V397"/>
<path d="M347,347 H378 V381 H347 Z"/>
<path d="M300,356 H340 M297,378 H330 M310,343 V397 M320,350 V397"/>
<path d="M200,333 H225 M200,345 H225 M200,358 H225"/>
<path d="M245,341 H295 V350 M262,351 H290"/>
<path d="M150,376 H250 V386 M180,376 V386 M210,376 V386 M155,376 V386"/>
<path d="M380,306 V397 M372,311 V340 M385,262 V300 M381,261.5 V300"/>
<path d="M140,362 H280 M270,362 V397 M255,375 H290 M290,375 V397"/>
</g>
<g fill="none" stroke="#b9a050" stroke-width="0.9">
<path d="M190,302 H378 M211,261.5 V302 M233,302 V361"/>
</g>
<g fill="#c03030"><rect x="190" y="301.5" width="4" height="1"/><rect x="160" y="224" width="6" height="0.8"/><rect x="210" y="306" width="4" height="1"/><rect x="374" y="300" width="4" height="1"/><rect x="405" y="390" width="1" height="6"/><rect x="200" y="350" width="3" height="1"/></g>
<rect x="95" y="234.5" width="28" height="13" fill="url(#gWater)" stroke="#b0b8c0" stroke-width="1.2"/>
<text x="104" y="232.5" font-size="2" fill="#e8f0f8">沉降罐</text>
<g fill="url(#gTank)">
<rect x="228" y="236.5" width="9.5" height="12" rx="1.8"/><rect x="258" y="236.5" width="9.5" height="12" rx="1.8"/><rect x="288" y="236.5" width="9.5" height="12" rx="1.8"/><rect x="318" y="236.5" width="9.5" height="12" rx="1.8"/><rect x="349" y="236.5" width="9.5" height="12" rx="1.8"/>
<rect x="91" y="297" width="10" height="11" rx="1.8"/><rect x="91" y="317" width="10" height="11" rx="1.8"/>
</g>
<g font-size="2" fill="#1a4a2a" text-anchor="middle"><text x="232.7" y="243.5">1#</text><text x="262.7" y="243.5">2#</text><text x="292.7" y="243.5">3#</text><text x="322.7" y="243.5">4#</text><text x="353.7" y="243.5">5#</text><text x="96" y="303.5">1#</text><text x="96" y="323.5">2#</text></g>
<g>
<rect x="213" y="272" width="25" height="8.5" rx="3" fill="#dfe3e8"/><rect x="219" y="274" width="13" height="4.5" fill="#d9805a"/>
<rect x="241" y="272" width="25" height="8.5" rx="3" fill="#dfe3e8"/><rect x="247" y="274" width="13" height="4.5" fill="#d9805a"/>
<rect x="269" y="272" width="25" height="8.5" rx="3" fill="#dfe3e8"/><rect x="275" y="274" width="13" height="4.5" fill="#d9805a"/>
<rect x="297" y="272" width="25" height="8.5" rx="3" fill="#dfe3e8"/><rect x="303" y="274" width="13" height="4.5" fill="#d9805a"/>
<rect x="325" y="272" width="25" height="8.5" rx="3" fill="#dfe3e8"/><rect x="331" y="274" width="13" height="4.5" fill="#d9805a"/>
<rect x="353" y="272" width="25" height="8.5" rx="3" fill="#dfe3e8"/><rect x="359" y="274" width="13" height="4.5" fill="#d9805a"/>
</g>
<!-- label boxes -->
<g stroke="#8a949e" stroke-width="0.3">
<g fill="#e6e8ea">
<rect x="130" y="253" width="22" height="3"/><rect x="130" y="268" width="22" height="3"/><rect x="130" y="284" width="22" height="3"/><rect x="130" y="305" width="22" height="3"/><rect x="130" y="322" width="22" height="3"/><rect x="130" y="338" width="22" height="3"/>
<rect x="181" y="245" width="22" height="3"/><rect x="181" y="261" width="22" height="3"/><rect x="101" y="250" width="12" height="3"/>
<rect x="104" y="299" width="13" height="3"/><rect x="104" y="318" width="13" height="3"/>
<rect x="219" y="254" width="21" height="3"/><rect x="249" y="254" width="21" height="3"/><rect x="279" y="254" width="21" height="3"/><rect x="309" y="254" width="21" height="3"/><rect x="340" y="254" width="21" height="3"/>
<rect x="214" y="283" width="23" height="2.6"/><rect x="214" y="289.5" width="23" height="2.6"/><rect x="214" y="296" width="23" height="2.6"/>
<rect x="242" y="283" width="23" height="2.6"/><rect x="242" y="289.5" width="23" height="2.6"/><rect x="242" y="296" width="23" height="2.6"/>
<rect x="270" y="283" width="23" height="2.6"/><rect x="270" y="289.5" width="23" height="2.6"/><rect x="270" y="296" width="23" height="2.6"/>
<rect x="298" y="283" width="23" height="2.6"/><rect x="298" y="289.5" width="23" height="2.6"/><rect x="298" y="296" width="23" height="2.6"/>
<rect x="326" y="283" width="23" height="2.6"/><rect x="326" y="289.5" width="23" height="2.6"/><rect x="326" y="296" width="23" height="2.6"/>
<rect x="354" y="283" width="23" height="2.6"/><rect x="354" y="289.5" width="23" height="2.6"/><rect x="354" y="296" width="23" height="2.6"/>
<rect x="203" y="311" width="22" height="3"/><rect x="267" y="316" width="23" height="3"/><rect x="313" y="316" width="23" height="3"/>
<rect x="229" y="337" width="16" height="3"/><rect x="229" y="350" width="16" height="3"/><rect x="250" y="338" width="12" height="3"/>
<rect x="327" y="340" width="16" height="3"/><rect x="347" y="357" width="16" height="3"/><rect x="327" y="366" width="16" height="3"/><rect x="327" y="384" width="16" height="3"/><rect x="250" y="368" width="16" height="3"/>
<rect x="138" y="386" width="24" height="3"/><rect x="167" y="386" width="24" height="3"/><rect x="196" y="386" width="24" height="3"/><rect x="225" y="386" width="24" height="3"/>
</g>
<g fill="#0a1a2a">
<rect x="130" y="256" width="22" height="3"/><rect x="130" y="271" width="22" height="3"/><rect x="130" y="287" width="22" height="3"/><rect x="130" y="308" width="22" height="3"/><rect x="130" y="325" width="22" height="3"/><rect x="130" y="341" width="22" height="3"/>
<rect x="181" y="248" width="22" height="3"/><rect x="181" y="264" width="22" height="3"/><rect x="101" y="253" width="12" height="3"/>
<rect x="104" y="302" width="13" height="3"/><rect x="104" y="321" width="13" height="3"/>
<rect x="203" y="314" width="22" height="3"/><rect x="267" y="319" width="23" height="3"/><rect x="313" y="319" width="23" height="3"/>
<rect x="229" y="340" width="16" height="3"/><rect x="229" y="353" width="16" height="3"/>
<rect x="327" y="343" width="16" height="3"/><rect x="347" y="360" width="16" height="3"/><rect x="327" y="369" width="16" height="3"/><rect x="327" y="387" width="16" height="3"/>
<rect x="138" y="389" width="24" height="3"/><rect x="167" y="389" width="24" height="3"/><rect x="196" y="389" width="24" height="3"/><rect x="225" y="389" width="24" height="3"/>
<rect x="138" y="393" width="24" height="3" fill="#e6e8ea"/><rect x="167" y="393" width="24" height="3" fill="#e6e8ea"/><rect x="196" y="393" width="24" height="3" fill="#e6e8ea"/><rect x="225" y="393" width="24" height="3" fill="#e6e8ea"/>
</g>
</g>
<g font-size="1.8" fill="#333" text-anchor="middle">
<text x="141" y="255.5">压力</text><text x="141" y="270.5">压力</text><text x="141" y="286.5">压力</text><text x="141" y="307.5">压力</text><text x="141" y="324.5">压力</text><text x="141" y="340.5">压力</text>
<text x="192" y="247.5">压力</text><text x="192" y="263.5">温度</text><text x="107" y="252.5">液位</text><text x="214" y="313.5">压力</text>
<text x="150" y="388.5">入口压力</text><text x="179" y="388.5">入口压力</text><text x="208" y="388.5">入口压力</text><text x="237" y="388.5">入口压力</text>
</g>
<g font-size="1.7" fill="#5fd08a" text-anchor="middle">
<text x="141" y="258.5">0.33MPa</text><text x="141" y="273.5">0.36MPa</text><text x="141" y="289.5">0.32MPa</text><text x="141" y="310.5">0.33MPa</text><text x="141" y="327.5">0.35MPa</text><text x="141" y="343.5">0.32MPa</text>
<text x="192" y="250.5">0.33MPa</text><text x="192" y="266.5">52.6℃</text><text x="214" y="316.5">0.33MPa</text>
</g>
<g fill="#d0d4d8">
<rect x="166" y="244" width="10" height="4" rx="1"/><rect x="166" y="252" width="10" height="4" rx="1"/><rect x="166" y="261" width="10" height="4" rx="1"/><rect x="166" y="269" width="10" height="4" rx="1"/>
<rect x="166" y="283" width="10" height="4" rx="1"/><rect x="166" y="291" width="10" height="4" rx="1"/><rect x="166" y="300" width="10" height="4" rx="1"/>
<rect x="293" y="315" width="12" height="4" rx="1"/><rect x="338" y="315" width="12" height="4" rx="1"/>
<rect x="203" y="329" width="20" height="4" rx="2"/><rect x="203" y="340" width="20" height="4" rx="2"/><rect x="203" y="353" width="20" height="4" rx="2"/>
<rect x="269" y="337.5" width="18" height="3" rx="1.5"/><rect x="308" y="335.5" width="18" height="4" rx="2"/><rect x="355" y="338" width="16" height="3" rx="1.5"/>
</g>
<rect x="242" y="312" width="9" height="13" rx="2" fill="#c8cdd2"/>
<g font-size="1.7" fill="#5fd08a">
<text x="170" y="278">2#提升泵</text><text x="170" y="309">3#提升泵</text><text x="106" y="349">CF泵房</text><text x="106" y="362">CF泵房</text><text x="106" y="377">CF泵房</text><text x="106" y="390">CF泵房</text>
<text x="272" y="348">1#缓冲罐</text><text x="310" y="346">2#沉降罐</text><text x="357" y="346">3#储罐</text><text x="290" y="366">3#污水罐</text><text x="268" y="380">5#污水罐</text>
<text x="144" y="384">1#外输泵</text><text x="173" y="384">2#外输泵</text><text x="202" y="384">3#外输泵</text><text x="231" y="384">4#外输泵</text>
<text x="204" y="327">1#分离器</text><text x="243" y="330">储气罐</text><text x="355" y="366">污水池</text>
</g>
<g font-size="1.6" fill="#1f7ab8"><text x="200" y="261">油</text><text x="212" y="252">进站</text><text x="369" y="297">出站</text><text x="383" y="303">外输</text><text x="66" y="360">来液</text><text x="66" y="390">来液</text></g>
</g>

<!-- ================= PANEL 4 (bottom-right) ================= -->
<g>
<rect x="420" y="212" width="410" height="185" fill="#eceef1"/>
<rect x="420" y="212" width="410" height="20" fill="#08152e"/>
<polygon points="421,213 512,213 504,231 421,231" fill="url(#g4hdr)"/>
<line x1="512" y1="214" x2="504" y2="230" stroke="#2a8cf0" stroke-width="0.8"/>
<circle cx="431" cy="222" r="6" fill="#fff"/>
<path d="M427.5,224 Q428.5,218 434.5,219.5 L432.5,222 Z" fill="#1d4a9a"/>
<text x="443" y="224.3" font-size="4.3" fill="#fff">作业区生产管理系统</text>
<polygon points="538,217 567,217 565,227 536,227" fill="url(#gRedTab)"/>
<g fill="url(#gBluTab)"><polygon points="572,217 600,217 598,227 570,227"/><polygon points="606,217 634,217 632,227 604,227"/><polygon points="640,217 668,217 666,227 638,227"/></g>
<g font-size="3" fill="#fff" text-anchor="middle"><text x="551.5" y="223.3">生产管理</text><text x="585" y="223.3">集中监控</text><text x="619" y="223.3">集中管控</text><text x="653" y="223.3">生产调度</text></g>
<text x="733" y="223.5" font-size="2.6" fill="#fff">当前作业区:</text>
<rect x="752" y="219" width="27" height="6" fill="#0a1a35" stroke="#5a7aa0" stroke-width="0.5"/>
<text x="754" y="223" font-size="2.2" fill="#fff">采油区</text><text x="775" y="223" font-size="2" fill="#9ab">▾</text>
<text x="783" y="223.5" font-size="2.4" fill="#b0bccc">欢迎登录</text><text x="797" y="223.5" font-size="2.4" fill="#3a90ff">admin</text>
<circle cx="820" cy="220" r="1.4" fill="none" stroke="#b0bccc" stroke-width="0.5"/><path d="M817.5,224 Q820,221 822.5,224" stroke="#b0bccc" stroke-width="0.5" fill="none"/>
<text x="812" y="234.5" font-size="1.6" fill="#4a80d8">数据更新时间</text>
<!-- left column -->
<rect x="425" y="236" width="55" height="8" fill="#1757c0"/>
<text x="452.5" y="241.2" font-size="2.8" fill="#fff" text-anchor="middle">计划完成数</text>
<g fill="#fff"><rect x="425" y="244.8" width="55" height="7"/><rect x="425" y="253.8" width="55" height="7"/><rect x="425" y="262.8" width="55" height="7"/><rect x="425" y="271.8" width="55" height="7"/><rect x="425" y="280.8" width="55" height="7"/></g>
<rect x="425" y="292" width="55" height="8" fill="#1757c0"/>
<text x="452.5" y="297.2" font-size="2.8" fill="#fff" text-anchor="middle">综合生产数据</text>
<g fill="#fff"><rect x="425" y="301.5" width="55" height="7"/><rect x="425" y="310.5" width="55" height="7"/><rect x="425" y="319.5" width="55" height="7"/><rect x="425" y="328.5" width="55" height="7"/><rect x="425" y="337.5" width="55" height="7"/><rect x="425" y="346.5" width="55" height="7"/><rect x="425" y="355.5" width="55" height="7"/><rect x="425" y="364.5" width="55" height="7"/><rect x="425" y="373.5" width="55" height="7"/><rect x="425" y="382.5" width="55" height="7"/></g>
<g fill="#2a5ab0"><circle cx="429" cy="248.3" r="1.1"/><circle cx="429" cy="257.3" r="1.1"/><circle cx="429" cy="266.3" r="1.1"/><circle cx="429" cy="275.3" r="1.1"/><circle cx="429" cy="284.3" r="1.1"/>
<circle cx="429" cy="305" r="1.1"/><circle cx="429" cy="314" r="1.1"/><circle cx="429" cy="323" r="1.1"/><circle cx="429" cy="332" r="1.1"/><circle cx="429" cy="341" r="1.1"/><circle cx="429" cy="350" r="1.1"/><circle cx="429" cy="359" r="1.1"/><circle cx="429" cy="368" r="1.1"/><circle cx="429" cy="377" r="1.1"/><circle cx="429" cy="386" r="1.1"/></g>
<g font-size="2.2" fill="#333">
<text x="433" y="249.2">全年计划产量</text><text x="433" y="258.2">累积完成产量</text><text x="433" y="267.2">累积超欠产</text><text x="433" y="276.2">全年计划注水</text><text x="433" y="285.2">全年实际注水</text>
<text x="433" y="305.9">日注水量</text><text x="433" y="314.9">日注水量超欠产</text><text x="433" y="323.9">日产液量超欠产</text><text x="433" y="332.9">日产油量超欠产</text><text x="433" y="341.9">总人员</text><text x="433" y="350.9">总产量</text><text x="433" y="359.9">总产液</text><text x="433" y="368.9">盈亏平衡量</text><text x="433" y="377.9">新建井</text><text x="433" y="386.9">老井开井数</text>
</g>
<g font-size="1.9" fill="#3a6ad0" text-anchor="end">
<text x="478" y="249.2">382065t</text><text x="478" y="258.2">9916</text><text x="478" y="267.2">961</text><text x="478" y="276.2">4308900</text><text x="478" y="285.2">3865900</text>
<text x="478" y="305.9">2880</text><text x="478" y="314.9">378</text><text x="478" y="323.9">1148</text><text x="478" y="332.9">136</text><text x="478" y="341.9">136</text><text x="478" y="350.9">3605.8</text><text x="478" y="359.9">2713</text><text x="478" y="368.9">137</text><text x="478" y="377.9">128</text><text x="478" y="386.9">78</text>
<text x="465" y="305.9">2879</text><text x="465" y="314.9">-2</text><text x="465" y="323.9">-46.28</text><text x="465" y="332.9">4.23</text><text x="465" y="341.9">136</text><text x="465" y="350.9">3603.8</text><text x="465" y="359.9">2750</text><text x="465" y="368.9">136</text><text x="465" y="377.9">128</text><text x="465" y="386.9">78</text>
</g>
<!-- chart cards -->
<g fill="#fff">
<rect x="484" y="236" width="125" height="58" rx="1.5"/><rect x="613" y="236" width="126" height="58" rx="1.5"/><rect x="742" y="236" width="85" height="58" rx="1.5"/>
<rect x="484" y="297" width="82" height="93" rx="1.5"/><rect x="571" y="297" width="81" height="93" rx="1.5"/><rect x="657" y="297" width="81" height="93" rx="1.5"/>
<rect x="742" y="297" width="85" height="46" rx="1.5"/><rect x="742" y="346" width="85" height="44" rx="1.5"/>
</g>
<rect x="487" y="238.5" width="1" height="3" fill="#2a6ad8"/><text x="489" y="241.3" font-size="2.4" fill="#444">产量完成情况</text>
<rect x="555" y="239" width="5" height="2" fill="#f06060"/><text x="561" y="240.8" font-size="1.8" fill="#666">实际完成产量</text>
<rect x="577" y="239" width="5" height="2" fill="#d4d4d8"/><text x="583" y="240.8" font-size="1.8" fill="#666">计划完成产量</text>
<g font-size="1.8" fill="#666" text-anchor="end"><text x="499" y="250">30,000</text><text x="499" y="255">25,000</text><text x="499" y="260">20,000</text><text x="499" y="265">15,000</text><text x="499" y="270">10,000</text><text x="499" y="275.5">5,000</text><text x="499" y="281">0</text></g>
<g fill="url(#gRed4)"><rect x="504" y="250" width="2.3" height="30"/><rect x="524" y="250.5" width="2.3" height="29.5"/><rect x="544" y="250.5" width="2.3" height="29.5"/><rect x="565" y="250.5" width="2.3" height="29.5"/><rect x="585" y="250" width="2.3" height="30"/></g>
<g fill="#d6d7db"><rect x="506.5" y="251" width="2.3" height="29"/><rect x="526.5" y="251" width="2.3" height="29"/><rect x="546.5" y="251" width="2.3" height="29"/><rect x="567.5" y="251" width="2.3" height="29"/><rect x="587.5" y="251" width="2.3" height="29"/></g>
<line x1="500" y1="280" x2="600" y2="280" stroke="#ddd" stroke-width="0.3"/>
<g font-size="1.7" fill="#666" text-anchor="middle"><text x="506" y="283.5">1月</text><text x="526" y="283.5">2月</text><text x="546" y="283.5">3月</text><text x="567" y="283.5">4月</text><text x="587" y="283.5">5月</text></g>
<text x="601" y="280.5" font-size="1.7" fill="#666">月份</text>
<rect x="616" y="238.5" width="1" height="3" fill="#2a6ad8"/><text x="618" y="241.3" font-size="2.4" fill="#444">注水完成情况</text>
<rect x="700" y="239" width="5" height="2" fill="#1a86f0"/><text x="706" y="240.8" font-size="1.8" fill="#666">实际注水</text>
<rect x="717" y="239" width="5" height="2" fill="#d4d4d8"/><text x="723" y="240.8" font-size="1.8" fill="#666">计划注水</text>
<g font-size="1.8" fill="#666" text-anchor="end"><text x="628" y="250">35,000</text><text x="628" y="256.5">30,000</text><text x="628" y="263">20,000</text><text x="628" y="269.5">10,000</text><text x="628" y="276">5,000</text><text x="628" y="281">0</text></g>
<g fill="url(#gBlu4)"><rect x="633" y="251" width="2.3" height="29"/><rect x="653" y="249" width="2.3" height="31"/><rect x="673" y="252" width="2.3" height="28"/><rect x="693" y="253.5" width="2.3" height="26.5"/><rect x="713" y="255.5" width="2.3" height="24.5"/></g>
<g fill="#d6d7db"><rect x="635.5" y="252.5" width="2.3" height="27.5"/><rect x="655.5" y="250.5" width="2.3" height="29.5"/><rect x="675.5" y="253" width="2.3" height="27"/><rect x="695.5" y="254.5" width="2.3" height="25.5"/><rect x="715.5" y="256.5" width="2.3" height="23.5"/></g>
<line x1="629" y1="280" x2="728" y2="280" stroke="#ddd" stroke-width="0.3"/>
<g font-size="1.7" fill="#666" text-anchor="middle"><text x="635" y="283.5">1月</text><text x="655" y="283.5">2月</text><text x="675" y="283.5">3月</text><text x="695" y="283.5">4月</text><text x="715" y="283.5">5月</text></g>
<text x="731" y="280.5" font-size="1.7" fill="#666">月份</text>
<rect x="745" y="238.5" width="1" height="3" fill="#2a6ad8"/><text x="747" y="241.3" font-size="2" fill="#444">近半年能耗数据</text>
<line x1="765" y1="240" x2="770" y2="240" stroke="#f59090" stroke-width="0.8"/><text x="771" y="240.8" font-size="1.6" fill="#666">用电数据</text>
<line x1="781" y1="240" x2="786" y2="240" stroke="#8fe08f" stroke-width="0.8"/><text x="787" y="240.8" font-size="1.6" fill="#666">用水数据</text>
<line x1="799" y1="240" x2="804" y2="240" stroke="#f5d070" stroke-width="0.8"/><text x="805" y="240.8" font-size="1.6" fill="#666">用气数据</text>
<g font-size="1.7" fill="#666" text-anchor="end"><text x="757" y="245">10,000</text><text x="757" y="252.5">8,000</text><text x="757" y="260.5">6,000</text><text x="757" y="268.5">4,000</text><text x="757" y="276.5">2,000</text><text x="757" y="285.5">0</text></g>
<path d="M763,260 C772,259 780,256 788,252 C793,248 797,246 803,246.5 C808,247 812,252 815,256" stroke="#8fe08f" stroke-width="0.8" fill="none"/>
<path d="M763,285 H805 C809,284 812,272 815,263" stroke="#f59090" stroke-width="0.8" fill="none"/>
<line x1="763" y1="285.4" x2="815" y2="285.4" stroke="#f5d070" stroke-width="0.6"/>
<g font-size="1.5" fill="#666" text-anchor="middle"><text x="764" y="289">2019/12</text><text x="774" y="289">2020/01</text><text x="784" y="289">2020/02</text><text x="794" y="289">2020/03</text><text x="804" y="289">2020/04</text><text x="814" y="289">2020/05</text></g>
<!-- lower cards -->
<rect x="487" y="300" width="1" height="3" fill="#e04848"/><text x="489.5" y="302.8" font-size="2.2" fill="#444">重点操作井</text>
<rect x="574" y="300" width="1" height="3" fill="#40b040"/><text x="576.5" y="302.8" font-size="2.2" fill="#444">产量通报</text>
<rect x="660" y="300" width="1" height="3" fill="#2a6ad8"/><text x="662.5" y="302.8" font-size="2.2" fill="#444">持续提升</text>
<rect x="745" y="300" width="1" height="3" fill="#2a6ad8"/><text x="747.5" y="302.8" font-size="1.9" fill="#444">对比昨日工作完成</text>
<rect x="745" y="349" width="1" height="3" fill="#2a6ad8"/><text x="747.5" y="351.8" font-size="1.9" fill="#444">今日工作上报</text>
<g font-size="1.9" fill="#5a8ae0" text-anchor="middle"><text x="525" y="313.6">产量情况</text><text x="525" y="349.6">压力情况</text><text x="525" y="387">注采情况</text><text x="611.5" y="313.6">日报</text><text x="611.5" y="341.6">月报</text><text x="611.5" y="371.6">年报</text></g>
<g font-size="1.8" fill="#444" text-anchor="middle">
<text x="525" y="319.6">生产井1066产量超上限5.8t</text><text x="525" y="326.6">生产井1216产量超下限6.0t</text><text x="525" y="333.6">生产井1066产量超上限5.8t</text><text x="525" y="341.2">生产井1066产量超下限6.0t</text>
<text x="525" y="355.6">生产井 M01 油压超上限3.8</text><text x="525" y="363.2">生产井1066压力超上限3.0</text><text x="525" y="370.6">生产井1056油压超上限3.0</text><text x="525" y="377.6">生产井1066油压超上限3.0</text>
<text x="611.5" y="319.6">生产井No0412</text><text x="611.5" y="326.6">生产井No0413</text><text x="611.5" y="333.6">生产井No0415</text>
<text x="611.5" y="348.6">生产井No0412</text><text x="611.5" y="356.2">生产井No0415</text><text x="611.5" y="363.6">生产井No0413</text>
<text x="611.5" y="377.6">生产井No0415</text><text x="611.5" y="385.6">生产井No0412</text>
<text x="697.5" y="313.6">生产井No0001 正常配备</text><text x="697.5" y="320.6">生产井No0012 正常配备</text><text x="697.5" y="327.6">生产井No0033 正常配备</text><text x="697.5" y="334.6">生产井No0044 正常配备</text>
<text x="697.5" y="341.6">生产井No0055 正常配备</text><text x="697.5" y="349.6">生产井No0065 正常配备</text><text x="697.5" y="356.6">生产井No0003 正常配备</text><text x="697.5" y="363.6">生产井No0044 正常配备</text>
</g>
<g stroke="#eceef2" stroke-width="0.4">
<path d="M489,321.5 H561 M489,328.5 H561 M489,335.5 H561 M489,343 H561 M489,357.5 H561 M489,365 H561 M489,372.5 H561 M489,379.5 H561"/>
<path d="M575,321.5 H648 M575,328.5 H648 M575,335.5 H648 M575,350.5 H648 M575,358 H648 M575,365.5 H648 M575,379.5 H648 M575,387.5 H648"/>
<path d="M661,315.5 H734 M661,322.5 H734 M661,329.5 H734 M661,336.5 H734 M661,343.5 H734 M661,351.5 H734 M661,358.5 H734 M661,365.5 H734"/>
</g>
<g fill="#2a6ad8"><rect x="749" y="309.5" width="5" height="3" rx="1.5"/><rect x="749" y="314.5" width="5" height="3" rx="1.5"/><rect x="749" y="356.5" width="5" height="3" rx="1.5"/><rect x="749" y="361.5" width="5" height="3" rx="1.5"/></g>
<g font-size="1.7" fill="#444"><text x="757" y="311.8">生产井1-27/10/8天 追踪监测100m</text><text x="757" y="316.8">生产井1#6/27整改未返台</text><text x="757" y="358.8">生产井1-1#整改处理检测</text><text x="757" y="363.8">生产井1#6/1#修复整改检测</text></g>
<rect x="420" y="391" width="410" height="6" fill="#e2e5e9"/>
</g>

<!-- ================= CAPTIONS ================= -->
<g font-size="10.6" font-weight="bold" fill="#2b2b2b" text-anchor="middle" font-family="'Liberation Sans','Noto Sans CJK SC',sans-serif">
<text x="212.5" y="203.5">生产井运行监控可视化报警系统</text>
<text x="625" y="203.5">管道与站库完整性管理系统</text>
<text x="205" y="417.5">站库安全预警系统</text>
<text x="625.5" y="417.5">作业区生产管理系统</text>
</g>
</svg>
</body></html>
